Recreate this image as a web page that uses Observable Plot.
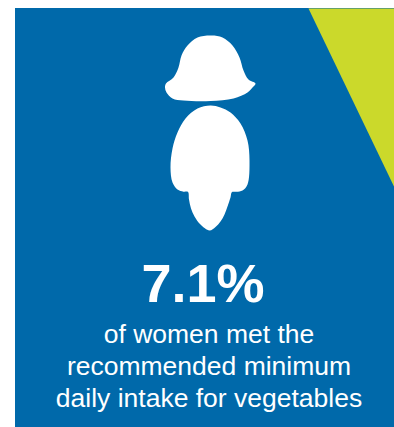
<!DOCTYPE html>
<html>
<head>
<meta charset="utf-8">
<script src="https://cdn.jsdelivr.net/npm/d3@7"></script>
<script src="https://cdn.jsdelivr.net/npm/@observablehq/plot@0.6"></script>
<style>
  html, body { margin: 0; padding: 0; background: #fff; overflow: hidden; }
  svg { display: block; }
</style>
</head>
<body>
<div id="chart"></div>
<script>
// Headline figure and its caption
const shareOfWomen = 7.1;
const captionLines = [
  "of women met the",
  "recommended minimum",
  "daily intake for vegetables"
];
const captionBaselines = [342.5, 374.5, 406];

// Card background and corner wedge, in page units
const panelX = [15, 394];
const panelY = [8, 427];
const wedge = [[308, 8], [394, 8], [394, 187]];

// Outline of the figure's head
const headOutline = [
  [211, 35], [197, 37], [187, 45], [181, 55], [178, 67], [173, 77], [165.5, 83],
  [164.5, 87], [166, 92], [172, 98], [183, 100], [210, 100.5], [233, 98], [247, 92], [252, 87], [255, 83],
  [248, 79], [243, 70], [239, 57], [232, 45], [222, 37]
];
// Outline of the figure's body
const bodyOutline = [
  [210, 105], [197, 108], [185, 118], [177, 132], [172, 148], [170, 167], [172, 182],
  [177, 189], [183, 191.2], [187.5, 191.5], [188.5, 199], [190.5, 208], [194, 216], [200, 224],
  [209, 230], [215, 226.5], [220, 221], [224, 214], [227, 206], [230, 197], [231.5, 191.5],
  [236, 191.3], [242, 190], [247, 184], [249, 160], [247, 140], [240, 123], [230, 112], [220, 107]
];

const blue = "#0069aa";
const lime = "#cbd92b";

const plot = Plot.plot({
  width: 394,
  height: 427,
  margin: 0,
  x: {domain: [0, 394], range: [0, 394], axis: null},
  y: {domain: [0, 427], range: [0, 427], axis: null},
  marks: [
    Plot.rect([{x1: panelX[0], x2: panelX[1], y1: panelY[0], y2: panelY[1]}], {
      x1: "x1", x2: "x2", y1: "y1", y2: "y2", fill: blue
    }),
    Plot.line([...wedge, wedge[0]], {x: "0", y: "1", fill: lime, stroke: null}),
    Plot.line(headOutline, {x: "0", y: "1", fill: "#fff", stroke: null, curve: "catmull-rom-closed"}),
    Plot.line(bodyOutline, {x: "0", y: "1", fill: "#fff", stroke: null, curve: "catmull-rom-closed"}),
    Plot.text([`${shareOfWomen}%`], {
      x: 202.5, y: 301.5, text: d => d, fill: "#fff", fontSize: 54, fontWeight: "bold",
      fontFamily: "Liberation Sans", textAnchor: "middle", lineAnchor: "bottom"
    }),
    Plot.text(captionLines, {
      x: 208.5, y: (d, i) => captionBaselines[i], text: d => d, fill: "#fff", fontSize: 26.5,
      fontFamily: "Liberation Sans", textAnchor: "middle", lineAnchor: "bottom"
    })
  ]
});
document.getElementById("chart").append(plot);
</script>
</body>
</html>
